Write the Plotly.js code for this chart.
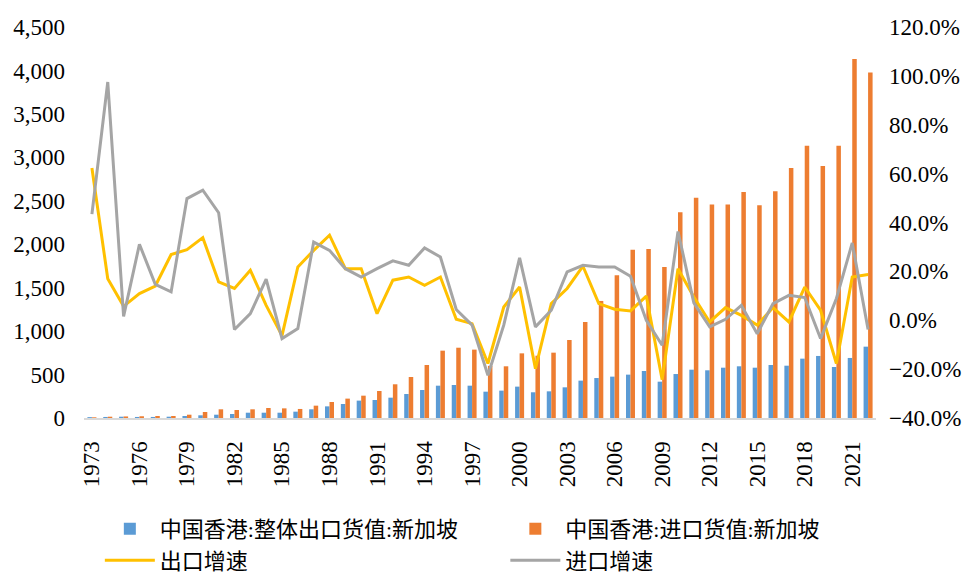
<!DOCTYPE html>
<html>
<head>
<meta charset="utf-8">
<script src="https://cdn.plot.ly/plotly-3.0.1.min.js"></script>
<style>
  body { margin: 0; background: #fff; }
  #chart { width: 964px; height: 577px; }
</style>
</head>
<body>
<div id="chart"></div>
<script>
const years = [];
for (let y = 1973; y <= 2022; y++) years.push(String(y));

// 中国香港:整体出口货值:新加坡
const exportValue = [
  10, 12, 15, 12, 12, 15, 23, 31, 38, 46,
  61, 61, 61, 73, 100, 134, 161, 200, 207, 234,
  276, 322, 372, 380, 372, 303, 315, 361, 296, 307,
  353, 430, 460, 476, 499, 541, 418, 506, 556, 549,
  579, 595, 579, 610, 602, 683, 714, 587, 691, 821
];

// 中国香港:进口货值:新加坡
const importValue = [
  8, 15, 18, 20, 23, 23, 38, 69, 100, 92,
  100, 115, 111, 104, 142, 184, 223, 257, 311, 388,
  472, 610, 775, 809, 787, 600, 595, 744, 717, 752,
  898, 1105, 1347, 1642, 1937, 1945, 1738, 2367, 2536, 2456,
  2456, 2601, 2448, 2609, 2878, 3134, 2901, 3134, 4132, 3975
];

// 出口增速
const exportGrowth = [
  0.623, 0.170, 0.057, 0.109, 0.140, 0.269, 0.289, 0.338, 0.157, 0.130,
  0.205, 0.061, -0.063, 0.218, 0.286, 0.348, 0.211, 0.211, 0.027, 0.164,
  0.177, 0.143, 0.177, 0.004, -0.014, -0.177, 0.054, 0.136, -0.198, 0.068,
  0.130, 0.221, 0.068, 0.045, 0.038, 0.099, -0.243, 0.211, 0.095, -0.007,
  0.052, 0.020, -0.020, 0.052, -0.007, 0.136, 0.041, -0.177, 0.177, 0.187
];

// 进口增速
const importGrowth = [
  0.434, 0.975, 0.016, 0.311, 0.147, 0.116, 0.498, 0.532, 0.440, -0.038,
  0.027, 0.168, -0.075, -0.034, 0.320, 0.286, 0.211, 0.177, 0.211, 0.243,
  0.225, 0.296, 0.259, 0.044, -0.020, -0.225, -0.020, 0.255, -0.027, 0.041,
  0.198, 0.225, 0.218, 0.218, 0.180, 0.000, -0.102, 0.363, 0.071, -0.027,
  0.004, 0.061, -0.055, 0.068, 0.102, 0.093, -0.075, 0.089, 0.316, -0.038
];

const tickYears = years.filter((y, i) => i % 3 === 0);

const serif = '"Liberation Serif", "Times New Roman", "Noto Sans CJK SC", serif';

const traces = [
  {
    x: years, y: exportValue, type: 'bar',
    name: '中国香港:整体出口货值:新加坡',
    marker: { color: '#5B9BD5' },
    legend: 'legend', legendgroup: 'a'
  },
  {
    x: years, y: importValue, type: 'bar',
    name: '中国香港:进口货值:新加坡',
    marker: { color: '#ED7D31' },
    legend: 'legend2', legendgroup: 'b'
  },
  {
    x: years, y: exportGrowth, type: 'scatter', mode: 'lines',
    yaxis: 'y2', name: '出口增速',
    line: { color: '#FFC000', width: 3 },
    legend: 'legend', legendgroup: 'c'
  },
  {
    x: years, y: importGrowth, type: 'scatter', mode: 'lines',
    yaxis: 'y2', name: '进口增速',
    line: { color: '#A5A5A5', width: 3 },
    legend: 'legend2', legendgroup: 'd'
  }
];

const legendStyle = {
  orientation: 'v',
  xanchor: 'left',
  y: -0.23,
  yanchor: 'top',
  itemwidth: 50,
  font: { family: serif, size: 22, color: '#000' },
  tracegroupgap: 10,
  traceorder: 'normal',
  bgcolor: 'rgba(0,0,0,0)'
};

const layout = {
  width: 964,
  height: 577,
  margin: { l: 84, r: 88, t: 27, b: 159, autoexpand: false },
  paper_bgcolor: '#fff',
  plot_bgcolor: '#fff',
  font: { family: serif, size: 23, color: '#000' },
  barmode: 'group',
  bargap: 0.43,
  bargroupgap: 0,
  showlegend: true,
  xaxis: {
    type: 'category',
    tickvals: tickYears,
    ticktext: tickYears,
    tickangle: -90,
    showgrid: false,
    showline: true,
    linecolor: '#D9D9D9',
    linewidth: 2,
    ticks: '',
    ticklabelstandoff: 12,
    tickfont: { family: serif, size: 23 }
  },
  yaxis: {
    range: [0, 4500],
    dtick: 500,
    tickformat: ',d',
    showgrid: false,
    zeroline: false,
    showline: false,
    ticks: '',
    ticklabelstandoff: 18,
    tickfont: { family: serif, size: 23 }
  },
  yaxis2: {
    overlaying: 'y',
    side: 'right',
    range: [-0.4, 1.2],
    dtick: 0.2,
    tickformat: '.1%',
    showgrid: false,
    zeroline: false,
    showline: false,
    ticks: '',
    ticklabelstandoff: 12,
    tickfont: { family: serif, size: 23 }
  },
  legend: Object.assign({ x: 0.02 }, legendStyle),
  legend2: Object.assign({ x: 0.532 }, legendStyle)
};

Plotly.newPlot('chart', traces, layout, { displayModeBar: false, staticPlot: true });
</script>
</body>
</html>
